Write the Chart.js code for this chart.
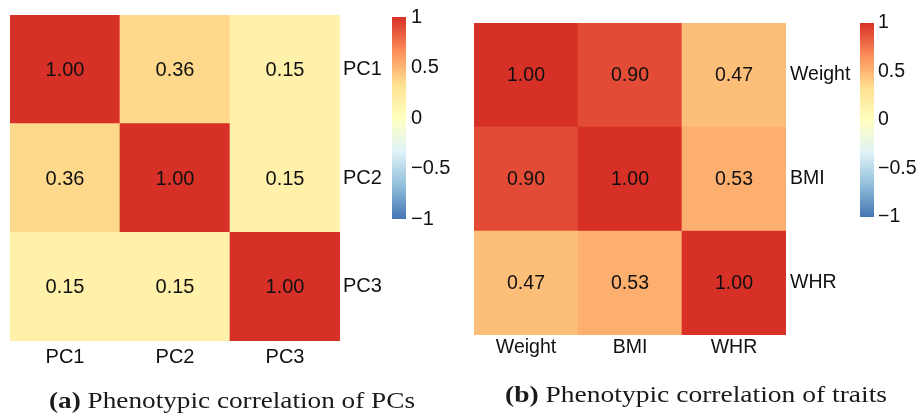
<!DOCTYPE html>
<html>
<head>
<meta charset="utf-8">
<script src="https://cdn.jsdelivr.net/npm/chart.js@4.4.1/dist/chart.umd.min.js"></script>
<style>
  body { margin: 0; background: #fff; }
  #wrap { position: relative; width: 920px; height: 418px; overflow: hidden; }
  canvas { position: absolute; }
</style>
</head>
<body>
<div id="wrap">
  <canvas id="heatA" width="460" height="418" style="left:0;top:0"></canvas>
  <canvas id="barA" width="78" height="240" style="left:382px;top:0"></canvas>
  <canvas id="heatB" width="460" height="418" style="left:460px;top:0"></canvas>
  <canvas id="barB" width="70" height="240" style="left:850px;top:0"></canvas>
</div>
<script>
// correlation matrices, rows top to bottom
const pcLabels = ['PC1', 'PC2', 'PC3'];
const pcCorr = [
  [1.00, 0.36, 0.15],
  [0.36, 1.00, 0.15],
  [0.15, 0.15, 1.00]
];
const traitLabels = ['Weight', 'BMI', 'WHR'];
const traitCorr = [
  [1.00, 0.90, 0.47],
  [0.90, 1.00, 0.53],
  [0.47, 0.53, 1.00]
];
const legendTicks = [-1, -0.5, 0, 0.5, 1];

// rev(RdYlBu), 7 colours from -1 to 1
const palette = ['#4575B4', '#91BFDB', '#E0F3F8', '#FFFFBF', '#FEE090', '#FC8D59', '#D73027'];

const SANS = '"Liberation Sans", Arial, sans-serif';
const INK = '#111';

function hexToRgb(h) {
    return [1, 3, 5].map(i => parseInt(h.slice(i, i + 2), 16));
}

function colorFor(v) {
    const pos = (v + 1) / 2 * (palette.length - 1);
    const i = Math.min(Math.floor(pos), palette.length - 2);
    const t = pos - i;
    const a = hexToRgb(palette[i]);
    const b = hexToRgb(palette[i + 1]);
    const c = a.map((x, k) => Math.round(x + (b[k] - x) * t));
    return `rgb(${c[0]},${c[1]},${c[2]})`;
}

// numbers inside the cells
const cellText = {
    id: 'cellText',
    afterDatasetsDraw(chart, args, opts) {
        const ctx = chart.ctx;
        ctx.save();
        ctx.font = `${opts.size}px ${SANS}`;
        ctx.fillStyle = INK;
        ctx.textAlign = 'center';
        ctx.textBaseline = 'middle';
        chart.data.datasets.forEach((ds, i) => {
            chart.getDatasetMeta(i).data.forEach((bar, j) => {
                ctx.fillText(ds.values[j].toFixed(2), bar.x, (bar.y + bar.base) / 2 + 1);
            });
        });
        ctx.restore();
    }
};

// sub-figure caption under each panel, bold tag + serif text
const caption = {
    id: 'caption',
    afterDraw(chart, args, opts) {
        if (!opts.text) return;
        const ctx = chart.ctx;
        ctx.save();
        ctx.fillStyle = '#1a1a1a';
        ctx.textBaseline = 'alphabetic';
        ctx.font = `bold 24px "Liberation Serif", serif`;
        const wTag = ctx.measureText(opts.tag + ' ').width;
        ctx.font = `24px "Liberation Serif", serif`;
        const wText = ctx.measureText(opts.text).width;
        const sx = opts.width / (wTag + wText);
        ctx.translate(opts.x - opts.width / 2, opts.y);
        ctx.scale(sx, 1);
        ctx.font = `bold 24px "Liberation Serif", serif`;
        ctx.fillText(opts.tag, 0, 0);
        ctx.font = `24px "Liberation Serif", serif`;
        ctx.fillText(opts.text, wTag, 0);
        ctx.restore();
    }
};

function makeHeat(id, labels, matrix, box, cap) {
    const n = labels.length;
    // stacked bars build the grid from the bottom row up
    const datasets = [];
    for (let r = n - 1; r >= 0; r--) {
        datasets.push({
            data: labels.map(() => 1),
            values: matrix[r],
            backgroundColor: matrix[r].map(colorFor),
            borderWidth: 0,
            categoryPercentage: 1,
            barPercentage: 1
        });
    }
    return new Chart(document.getElementById(id), {
        type: 'bar',
        data: { labels: labels, datasets: datasets },
        options: {
            responsive: false,
            animation: false,
            events: [],
            layout: {
                padding: {
                    left: box.left,
                    top: box.top,
                    right: box.w - box.right - box.yW,
                    bottom: box.h - box.bottom - box.xH
                }
            },
            scales: {
                x: {
                    stacked: true,
                    grid: { display: false, drawTicks: false },
                    border: { display: false },
                    ticks: { color: INK, font: { family: SANS, size: box.font }, padding: box.xPad, maxRotation: 0 },
                    afterFit: s => { s.height = box.xH; }
                },
                y: {
                    stacked: true,
                    position: 'right',
                    min: 0,
                    max: n,
                    grid: { display: false, drawTicks: false },
                    border: { display: false },
                    ticks: {
                        stepSize: 0.5,
                        autoSkip: false,
                        color: INK,
                        font: { family: SANS, size: box.font },
                        padding: box.yPad,
                        callback: v => {
                            const k = v - 0.5;
                            return Number.isInteger(k) ? labels[n - 1 - k] : '';
                        }
                    },
                    afterFit: s => { s.width = box.yW; }
                }
            },
            plugins: {
                legend: { display: false },
                tooltip: { enabled: false },
                cellText: { size: box.font },
                caption: cap
            }
        },
        plugins: [cellText, caption]
    });
}

function makeColorbar(id, box) {
    return new Chart(document.getElementById(id), {
        type: 'bar',
        data: {
            labels: [''],
            datasets: [{
                data: [[legendTicks[0], legendTicks[legendTicks.length - 1]]],
                borderWidth: 0,
                categoryPercentage: 1,
                barPercentage: 1,
                backgroundColor: c => {
                    const a = c.chart.chartArea;
                    if (!a) return palette[3];
                    const g = c.chart.ctx.createLinearGradient(0, a.bottom, 0, a.top);
                    palette.forEach((col, i) => g.addColorStop(i / (palette.length - 1), col));
                    return g;
                }
            }]
        },
        options: {
            responsive: false,
            animation: false,
            events: [],
            layout: { padding: { left: box.left, top: box.top, right: box.right, bottom: box.bottom } },
            scales: {
                x: { display: false },
                y: {
                    position: 'right',
                    min: -1,
                    max: 1,
                    grid: { display: false, drawTicks: false },
                    border: { display: false },
                    afterBuildTicks: s => { s.ticks = legendTicks.map(v => ({ value: v })); },
                    ticks: {
                        color: INK,
                        font: { family: SANS, size: box.font },
                        padding: box.pad,
                        callback: v => (v < 0 ? '\u2212' + Math.abs(v) : String(v))
                    },
                    afterFit: s => { s.width = box.yW; }
                }
            },
            plugins: { legend: { display: false }, tooltip: { enabled: false } }
        }
    });
}

makeHeat('heatA', pcLabels, pcCorr,
    { w: 460, h: 418, left: 10, top: 14, right: 340, bottom: 341, yW: 60, xH: 30, xPad: 4, yPad: 3, font: 20 },
    { tag: '(a)', text: 'Phenotypic correlation of PCs', x: 232, y: 408, width: 366 });
makeHeat('heatB', traitLabels, traitCorr,
    { w: 460, h: 418, left: 14, top: 23, right: 326, bottom: 335, yW: 70, xH: 30, xPad: 1, yPad: 4, font: 19.5 },
    { tag: '(b)', text: 'Phenotypic correlation of traits', x: 236, y: 402, width: 382 });

makeColorbar('barA', { left: 10, top: 14, right: 4, bottom: 21, yW: 50, pad: 5, font: 20 });
makeColorbar('barB', { left: 10, top: 23, right: 0, bottom: 23, yW: 46, pad: 4, font: 19.5 });
</script>
</body>
</html>
